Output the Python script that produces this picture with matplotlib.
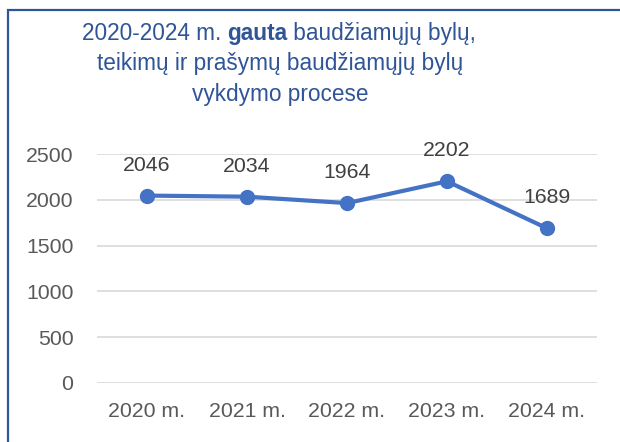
import matplotlib.pyplot as plt
from matplotlib.patches import Rectangle

years = ["2020 m.", "2021 m.", "2022 m.", "2023 m.", "2024 m."]
received = [2046, 2034, 1964, 2202, 1689]
y_ticks = [0, 500, 1000, 1500, 2000, 2500]

W, H = 620, 442
fig = plt.figure(figsize=(W / 100, H / 100), dpi=100)

# outer blue frame (only top/left edges visible in the crop)
fig.patches.append(Rectangle((8 / W, -0.1), 1.2, 1 - 10 / H + 0.1, transform=fig.transFigure,
                             fill=False, edgecolor="#2F5597", linewidth=1.6))

ax = fig.add_axes([97 / W, 1 - 383 / H, 500 / W, 229 / H])
x = range(len(years))
ax.plot(x, received, color="#4472C4", linewidth=3, marker="o", markersize=10, zorder=3)
for i, v in enumerate(received):
    ax.annotate(str(v), (i, v), xytext=(0, 22), textcoords="offset points",
                ha="center", va="center", fontsize=15.3, color="#404040", family="Liberation Sans")

ax.set_xlim(-0.5, len(years) - 0.5)
ax.set_ylim(0, 2500)
ax.set_yticks(y_ticks)
ax.set_xticks(list(x))
ax.set_xticklabels(years)
ax.grid(axis="y", color="#D9D9D9", linewidth=1.2)
ax.set_axisbelow(True)
for s in ax.spines.values():
    s.set_visible(False)
ax.tick_params(length=0, labelsize=15.3, labelcolor="#595959")
ax.tick_params(axis="y", pad=17)
ax.tick_params(axis="x", pad=14)
for lbl in ax.get_xticklabels() + ax.get_yticklabels():
    lbl.set_family("Liberation Sans")

# title, first line has a bold word
tcol = "#2F5597"
tfont = dict(fontsize=16.3, color=tcol, family="Liberation Sans")
parts = [("2020-2024 m. ", "normal"), ("gauta", "bold"), (" baudžiamųjų bylų,", "normal")]
fig.canvas.draw()
r = fig.canvas.get_renderer()
tmp = [fig.text(0, 0, p, fontweight=w, **tfont) for p, w in parts]
widths = [t.get_window_extent(r).width for t in tmp]
for t in tmp:
    t.remove()
xpos = 279 - sum(widths) / 2
for (p, w), wd in zip(parts, widths):
    fig.text(xpos / W, 1 - 40 / H, p, fontweight=w, ha="left", va="baseline", **tfont)
    xpos += wd
fig.text(280 / W, 1 - 70 / H, "teikimų ir prašymų baudžiamųjų bylų", ha="center", va="baseline", **tfont)
fig.text(280 / W, 1 - 101 / H, "vykdymo procese", ha="center", va="baseline", **tfont)

fig.savefig("out.png", dpi=100)
